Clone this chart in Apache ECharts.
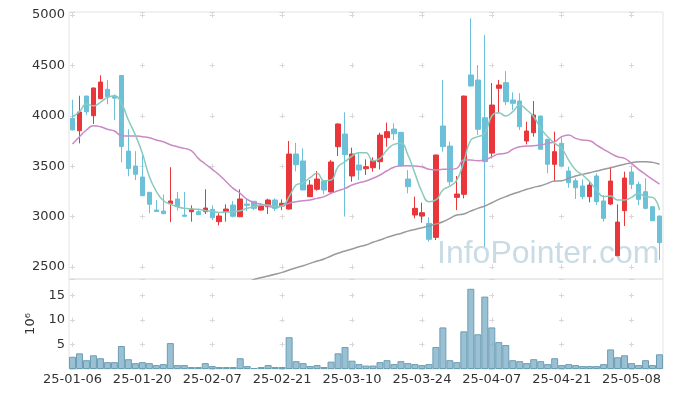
<!DOCTYPE html>
<html>
<head>
<meta charset="utf-8">
<script src="https://cdn.jsdelivr.net/npm/echarts@6/dist/echarts.min.js"></script>
<style>
  html, body { margin: 0; padding: 0; background: #fff; }
  #chart { width: 673px; height: 397px; }
</style>
</head>
<body>
<div id="chart"></div>
<script>
// 거래일
var dates = [
  '25-01-06','25-01-07','25-01-08','25-01-09','25-01-10','25-01-13','25-01-14','25-01-15','25-01-16','25-01-17',
  '25-01-20','25-01-21','25-01-22','25-01-23','25-01-24','25-01-31','25-02-03','25-02-04','25-02-05','25-02-06',
  '25-02-07','25-02-10','25-02-11','25-02-12','25-02-13','25-02-14','25-02-17','25-02-18','25-02-19','25-02-20',
  '25-02-21','25-02-24','25-02-25','25-02-26','25-02-27','25-02-28','25-03-04','25-03-05','25-03-06','25-03-07',
  '25-03-10','25-03-11','25-03-12','25-03-13','25-03-14','25-03-17','25-03-18','25-03-19','25-03-20','25-03-21',
  '25-03-24','25-03-25','25-03-26','25-03-27','25-03-28','25-03-31','25-04-01','25-04-02','25-04-03','25-04-04',
  '25-04-07','25-04-08','25-04-09','25-04-10','25-04-11','25-04-14','25-04-15','25-04-16','25-04-17','25-04-18',
  '25-04-21','25-04-22','25-04-23','25-04-24','25-04-25','25-04-28','25-04-29','25-04-30','25-05-02','25-05-07',
  '25-05-08','25-05-09','25-05-12','25-05-13','25-05-14'
];

var openPrice = [
  3975,3852,4196,4001,4170,4263,4196,4400,3650,3502,
  3393,3241,3065,3055,3128,3175,3015,3049,3049,3049,
  3072,2950,3049,3115,2999,3125,3152,3065,3098,3165,
  3105,3075,3621,3552,3198,3271,3353,3244,3694,3819,
  3403,3512,3475,3485,3545,3783,3869,3836,3373,3016,
  3006,2933,2794,3899,3700,3191,3221,4405,4355,3981,
  3630,4273,4329,4157,4147,3750,3832,3998,3767,3519,
  3727,3452,3356,3304,3198,3403,3155,3125,2612,3059,
  3442,3320,3247,3098,3006
];
var closePrice = [
  3860,4038,4040,4276,4335,4190,4175,3695,3478,3420,
  3207,3122,3050,3029,3155,3100,3003,3075,3019,3085,
  2989,3006,3075,3003,3175,3112,3082,3105,3165,3082,
  3132,3621,3515,3264,3313,3373,3264,3542,3919,3614,
  3621,3462,3495,3555,3809,3843,3822,3502,3297,3082,
  3039,2775,3611,3694,3346,3224,4196,4296,3866,3545,
  4107,4306,4140,4124,3892,3849,4008,3668,3519,3644,
  3502,3336,3287,3198,3313,3148,2983,3353,2946,3383,
  3320,3171,3082,2959,2741
];
var lowPrice = [
  3855,3727,4008,3919,4170,4114,3958,3540,3400,3363,
  3205,3033,3047,3025,2945,3059,3000,2950,3017,3026,
  2966,2913,2950,2993,2995,3055,3065,3059,3026,3055,
  3065,3070,3449,3264,3195,3257,3221,3240,3601,3000,
  3346,3363,3413,3445,3469,3694,3760,3500,3231,2983,
  2940,2751,2768,3644,3313,3065,3181,4290,3810,2700,
  3578,4025,4107,4058,3859,3717,3793,3665,3429,3346,
  3500,3287,3175,3171,3142,3115,2950,3115,2608,2907,
  3274,3115,3072,2955,2569
];
var highPrice = [
  4160,4199,4200,4280,4402,4355,4213,4405,3866,3650,
  3634,3245,3165,3220,3490,3244,3244,3112,3075,3271,
  3112,3033,3122,3155,3271,3181,3155,3132,3178,3181,
  3171,3750,3733,3677,3363,3452,3355,3561,3925,4035,
  3684,3631,3568,3588,3832,3932,3925,3840,3462,3198,
  3138,2993,3615,4355,3743,3403,4200,4967,4504,4802,
  4325,4355,4444,4233,4223,3942,4147,4000,3770,3843,
  3793,3495,3380,3370,3346,3429,3214,3495,3122,3446,
  3495,3346,3380,3100,3010
];

// 이동평균
var ma5 = [
  3991,4041,4117,4100,4134,4183,4199,4124,3958,3809,
  3628,3396,3250,3160,3125,3098,3082,3075,3072,3059,
  3052,3042,3045,3049,3059,3082,3098,3112,3115,3098,
  3105,3198,3313,3336,3386,3429,3356,3363,3495,3545,
  3601,3634,3634,3552,3578,3661,3717,3727,3611,3429,
  3247,3148,3165,3264,3303,3363,3545,3760,3793,3826,
  3998,4031,3998,4041,4107,4058,3991,3876,3793,3727,
  3677,3561,3462,3413,3346,3264,3198,3204,3165,3165,
  3191,3231,3198,3191,3065
];
var ma20 = [
  3720,3793,3859,3902,3892,3866,3849,3803,3800,3800,
  3793,3783,3760,3743,3713,3694,3677,3654,3578,3522,
  3469,3413,3346,3280,3231,3171,3138,3122,3105,3092,
  3105,3132,3148,3158,3165,3181,3198,3231,3257,3280,
  3313,3336,3353,3380,3413,3455,3489,3505,3505,3502,
  3495,3469,3462,3469,3469,3479,3561,3561,3555,3561,
  3594,3621,3628,3668,3694,3700,3703,3710,3727,3743,
  3793,3809,3776,3760,3753,3710,3668,3628,3594,3578,
  3528,3469,3419,3370,3323
];
var ma60 = [
  null,null,null,null,null,null,null,null,null,null,
  null,null,null,null,null,null,null,null,null,null,
  null,null,null,null,null,2350,2376,2396,2411,2428,
  2447,2470,2493,2513,2536,2559,2579,2609,2636,2659,
  2679,2701,2718,2745,2768,2794,2816,2833,2856,2873,
  2889,2906,2926,2949,2983,3016,3026,3055,3082,3105,
  3138,3171,3198,3224,3247,3271,3290,3307,3330,3353,
  3356,3380,3403,3419,3436,3452,3469,3485,3502,3519,
  3535,3545,3545,3538,3519
];

// 거래량 (10^6)
var volume = [
  2.5,3.2,1.8,2.8,2.2,1.4,1.4,4.7,2.0,1.2,
  1.4,1.2,0.8,1.0,5.3,0.8,0.8,0.4,0.4,1.2,
  0.6,0.4,0.4,0.4,2.2,0.6,0.2,0.4,0.8,0.4,
  0.4,6.5,1.6,1.2,0.6,0.8,0.4,1.5,3.2,4.5,
  1.7,1.0,0.7,0.7,1.4,1.8,1.0,1.6,1.2,1.0,
  0.8,1.0,4.5,8.5,1.8,1.4,7.7,16.4,7.1,14.8,
  8.5,5.5,4.9,1.8,1.6,1.2,2.0,1.6,1.0,2.2,
  0.8,1.0,0.8,0.6,0.6,0.6,1.0,4.0,2.4,2.8,
  1.2,0.8,1.8,0.8,3.0
];

var candleData = dates.map(function (d, i) {
  return [openPrice[i], closePrice[i], lowPrice[i], highPrice[i]];
});

var labelFont = { fontFamily: 'DejaVu Sans', fontSize: 13, color: '#333' };
var crossColor = '#d8d8d8';
var plainNum = function (v) { return String(v); };

var myChart = echarts.init(document.getElementById('chart'));
var option = {
  animation: false,
  backgroundColor: '#fff',
  graphic: [{
    type: 'text',
    left: 437,
    top: 238,
    z: 0,
    style: {
      text: 'InfoPointer.com',
      font: '32px "Liberation Sans"',
      fill: '#c9dce6'
    }
  }],
  grid: [
    { left: 69, right: 10, top: 12, height: 267, show: true, borderColor: '#e3e3e3', borderWidth: 1 },
    { left: 69, right: 10, top: 279, height: 90, show: true, borderColor: '#e3e3e3', borderWidth: 1 }
  ],
  xAxis: [{
    type: 'category',
    gridIndex: 0,
    data: dates,
    boundaryGap: true,
    axisLine: { show: false },
    axisTick: { show: false },
    axisLabel: { show: false },
    splitLine: {
      show: true,
      interval: 9,
      alignWithLabel: true,
      lineStyle: { color: crossColor, width: 1, type: [5, 45.4], dashOffset: 49.9 }
    }
  }, {
    type: 'category',
    gridIndex: 1,
    data: dates,
    boundaryGap: true,
    axisLine: { show: false },
    axisTick: { show: false },
    axisLabel: Object.assign({ interval: 9, margin: 4 }, labelFont),
    splitLine: {
      show: true,
      interval: 9,
      alignWithLabel: true,
      lineStyle: { color: crossColor, width: 1, type: [5, 19.46], dashOffset: 10.36 }
    }
  }],
  yAxis: [{
    type: 'value',
    gridIndex: 0,
    min: 2381,
    max: 5030,
    splitNumber: 5,
    axisLine: { show: false },
    axisTick: { show: false },
    axisLabel: Object.assign({ margin: 4, showMinLabel: false, showMaxLabel: false, formatter: plainNum }, labelFont),
    splitLine: {
      show: true,
      lineStyle: { color: crossColor, width: 1, type: [5, 64.88], dashOffset: 68.88 }
    }
  }, {
    type: 'value',
    gridIndex: 1,
    min: 0,
    max: 18.4,
    splitNumber: 4,
    name: '10⁶',
    nameLocation: 'middle',
    nameRotate: 90,
    nameGap: 29,
    nameTextStyle: labelFont,
    axisLine: { show: false },
    axisTick: { show: false },
    axisLabel: Object.assign({ margin: 4, showMinLabel: false, showMaxLabel: false, formatter: plainNum }, labelFont),
    splitLine: {
      show: true,
      lineStyle: { color: crossColor, width: 1, type: [5, 64.88], dashOffset: 68.88 }
    }
  }],
  series: [{
    name: 'price',
    type: 'candlestick',
    xAxisIndex: 0,
    yAxisIndex: 0,
    barWidth: 5,
    data: candleData,
    itemStyle: {
      color: '#e8363b',
      color0: '#6cc1d8',
      borderColor: '#e8363b',
      borderColor0: '#6cc1d8',
      borderWidth: 1
    }
  }, {
    name: 'MA60',
    type: 'line',
    xAxisIndex: 0,
    yAxisIndex: 0,
    data: ma60,
    showSymbol: false,
    smooth: true,
    lineStyle: { color: '#9a9a9a', width: 1.5 }
  }, {
    name: 'MA20',
    type: 'line',
    xAxisIndex: 0,
    yAxisIndex: 0,
    data: ma20,
    showSymbol: false,
    smooth: true,
    lineStyle: { color: '#c98ac5', width: 1.5 }
  }, {
    name: 'MA5',
    type: 'line',
    xAxisIndex: 0,
    yAxisIndex: 0,
    data: ma5,
    showSymbol: false,
    smooth: true,
    lineStyle: { color: '#88cbbd', width: 1.5 }
  }, {
    name: 'volume',
    type: 'bar',
    xAxisIndex: 1,
    yAxisIndex: 1,
    data: volume,
    barCategoryGap: '0%',
    itemStyle: {
      color: 'rgba(128,176,200,0.8)',
      borderColor: '#6d9db4',
      borderWidth: 1
    }
  }]
};
myChart.setOption(option);
</script>
</body>
</html>
